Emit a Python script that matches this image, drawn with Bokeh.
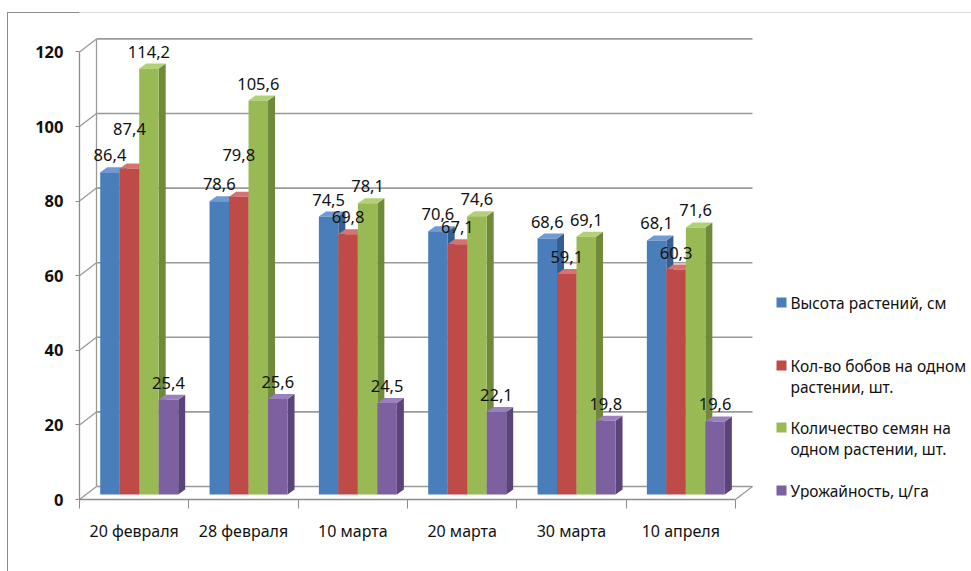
import numpy as np
from bokeh.plotting import figure
from bokeh.models import Range1d, FixedTicker, BoxAnnotation, ColumnDataSource
from bokeh.core.properties import value
from bokeh.embed import file_html
from bokeh.resources import INLINE

# ---------------- data ----------------
categories = ["20 февраля", "28 февраля", "10 марта", "20 марта", "30 марта", "10 апреля"]
series_names = ["Высота растений, см",
                "Кол-во бобов на одном\nрастении, шт.",
                "Количество семян на\nодном растении, шт.",
                "Урожайность, ц/га"]
plant_height = [86.4, 78.6, 74.5, 70.6, 68.6, 68.1]
beans_per_plant = [87.4, 79.8, 69.8, 67.1, 59.1, 60.3]
seeds_per_plant = [114.2, 105.6, 78.1, 74.6, 69.1, 71.6]
crop_yield = [25.4, 25.6, 24.5, 22.1, 19.8, 19.6]
y_ticks = [0, 20, 40, 60, 80, 100, 120]

# ---------------- styling / geometry ----------------
W, H = 971, 571
LEFT, BOTTOM = 79, 72
FRAME_W, FRAME_H = W - LEFT, H - BOTTOM
PX_X = 109.33          # pixels per category
PX_Y = 3.73            # pixels per value unit
WALL_DX, WALL_DY = 17 / PX_X, 13 / PX_Y     # depth of the 3D box
DEPTH_F = 5 / 13                            # bars sit at this depth fraction
BAR_W = 19.5 / PX_X
BAR_DX, BAR_DY = 7 / PX_X, 5 / PX_Y         # depth of each bar
FONT = "Noto Sans"
GRID_COLOR = "#9a9a9a"
BORDER_COLOR = "#8c8c8c"

front_cols = ["#4A7EBB", "#BE4B48", "#98B954", "#7D60A0"]
top_cols = ["#6F9AD3", "#D77270", "#B3D174", "#9A80BC"]
side_cols = ["#355E91", "#8E3532", "#6E8A3A", "#5A4479"]

series = [plant_height, beans_per_plant, seeds_per_plant, crop_yield]

p = figure(width=W, height=H, output_backend="svg", toolbar_location=None,
           x_range=Range1d(0, FRAME_W / PX_X), y_range=Range1d(0, FRAME_H / PX_Y),
           min_border_left=LEFT, min_border_right=0, min_border_top=0,
           min_border_bottom=BOTTOM, background_fill_color="white",
           border_fill_color=None, outline_line_color=None)
# chart-area border outside the plotting frame (left edge and top-left piece)
p.styles = {"background": (f"linear-gradient({BORDER_COLOR},{BORDER_COLOR}) 7px 12px / 1px 600px no-repeat, "
                           f"linear-gradient({BORDER_COLOR},{BORDER_COLOR}) 7px 12px / 1000px 1px no-repeat, "
                           "#ffffff")}
p.xgrid.visible = False
p.ygrid.visible = False

# ---------------- walls ----------------
n = len(categories)
gy = np.array(y_ticks, dtype=float)
# back wall gridlines
p.segment(x0=np.full(len(gy), WALL_DX), y0=gy + WALL_DY,
          x1=np.full(len(gy), n + WALL_DX), y1=gy + WALL_DY,
          line_color=GRID_COLOR, line_width=1.6)
# side wall diagonals
p.segment(x0=np.zeros(len(gy)), y0=gy, x1=np.full(len(gy), WALL_DX), y1=gy + WALL_DY,
          line_color=GRID_COLOR, line_width=1.3)
# side wall back edge
p.segment(x0=[WALL_DX], y0=[WALL_DY], x1=[WALL_DX], y1=[gy[-1] + WALL_DY],
          line_color=GRID_COLOR, line_width=1.3)
# floor right edge
p.segment(x0=[n], y0=[0], x1=[n + WALL_DX], y1=[WALL_DY],
          line_color=GRID_COLOR, line_width=1.3)

# ---------------- bars ----------------
base_x = DEPTH_F * WALL_DX
base_y = DEPTH_F * WALL_DY
pad = (1 - 4 * BAR_W) / 2 - 1.5 / PX_X
idx = np.arange(n)
label_x, label_y, label_t, label_dy = [], [], [], []
for j, vals in enumerate(series):
    v = np.array(vals, dtype=float)
    x0 = idx + pad + j * BAR_W + base_x
    x1 = x0 + BAR_W
    y0 = np.full(n, base_y)
    y1 = v + base_y
    side_xs = [[a, a + BAR_DX, a + BAR_DX, a] for a in x1]
    side_ys = [[b0, b0 + BAR_DY, b1 + BAR_DY, b1] for b0, b1 in zip(y0, y1)]
    p.patches(side_xs, side_ys, fill_color=side_cols[j], line_color=None)
    top_xs = [[a, b, b + BAR_DX, a + BAR_DX] for a, b in zip(x0, x1)]
    top_ys = [[t, t, t + BAR_DY, t + BAR_DY] for t in y1]
    p.patches(top_xs, top_ys, fill_color=top_cols[j], line_color=None)
    p.quad(left=x0, right=x1, bottom=y0, top=y1, fill_color=front_cols[j], line_color=None)
    for i in range(n):
        label_x.append((x0[i] + x1[i]) / 2)
        label_y.append(y1[i])
        label_t.append(f"{v[i]:.1f}".replace(".", ","))
        label_dy.append(-17)

# Excel moved two overlapping labels upward
label_nudge = {(1, 0): -22, (1, 1): -25}
for (j, i), d in label_nudge.items():
    label_dy[j * n + i] += d

lab_src = ColumnDataSource(dict(x=label_x, y=label_y, t=label_t, dy=label_dy))
p.text(x="x", y="y", text="t", y_offset="dy", source=lab_src,
       text_font=value(FONT), text_font_size="16.5px", text_align="center",
       text_baseline="middle", text_color="#111111")

# ---------------- legend (drawn in data space to the right) ----------------
def px_x(px):
    return (px - LEFT) / PX_X

def px_y(py):
    return (FRAME_H - py) / PX_Y

leg_sq_y = [302, 365, 427, 490]
p.scatter(x=[px_x(781)] * 4, y=[px_y(v) for v in leg_sq_y], marker="square", size=10,
          fill_color=front_cols, line_color=None)
lt_x, lt_y, lt_t = [], [], []
for k, name in enumerate(series_names):
    for m, line in enumerate(name.split("\n")):
        lt_x.append(px_x(790))
        lt_y.append(px_y(leg_sq_y[k] + m * 21))
        lt_t.append(line)
p.text(x=lt_x, y=lt_y, text=lt_t, text_font=value(FONT), text_font_size="15.5px",
       text_align="left", text_baseline="middle", text_color="#111111")

# ---------------- axes ----------------
yax = p.yaxis[0]
yax.ticker = FixedTicker(ticks=y_ticks)
yax.bounds = (0, 120)
yax.axis_line_color = BORDER_COLOR
yax.axis_line_width = 1.3
yax.major_tick_line_color = BORDER_COLOR
yax.major_tick_out = 4
yax.major_tick_in = 0
yax.minor_tick_line_color = None
yax.major_label_standoff = 12
yax.major_label_text_font = FONT
yax.major_label_text_font_size = "16.5px"
yax.major_label_text_font_style = "bold"
yax.major_label_text_color = "#111111"

xax = p.xaxis[0]
xax.ticker = FixedTicker(ticks=[i + 0.5 for i in range(n)], minor_ticks=list(range(n + 1)))
xax.major_label_overrides = {i + 0.5: c for i, c in enumerate(categories)}
xax.bounds = (0, n)
xax.axis_line_color = BORDER_COLOR
xax.axis_line_width = 1.3
xax.major_tick_line_color = None
xax.major_tick_out = 0
xax.minor_tick_line_color = BORDER_COLOR
xax.minor_tick_out = 9
xax.minor_tick_in = 0
xax.major_label_standoff = 11
xax.major_label_text_font = FONT
xax.major_label_text_font_size = "16px"
xax.major_label_text_color = "#111111"

# chart-area border (part inside the plotting frame)
p.add_layout(BoxAnnotation(left=7 - LEFT, right=FRAME_W + 20, top=FRAME_H - 12, bottom=-200,
                           left_units="screen", right_units="screen",
                           top_units="screen", bottom_units="screen",
                           fill_color=None, line_color=BORDER_COLOR, line_width=1.0))

open("out.html", "w").write(file_html(p, INLINE))
